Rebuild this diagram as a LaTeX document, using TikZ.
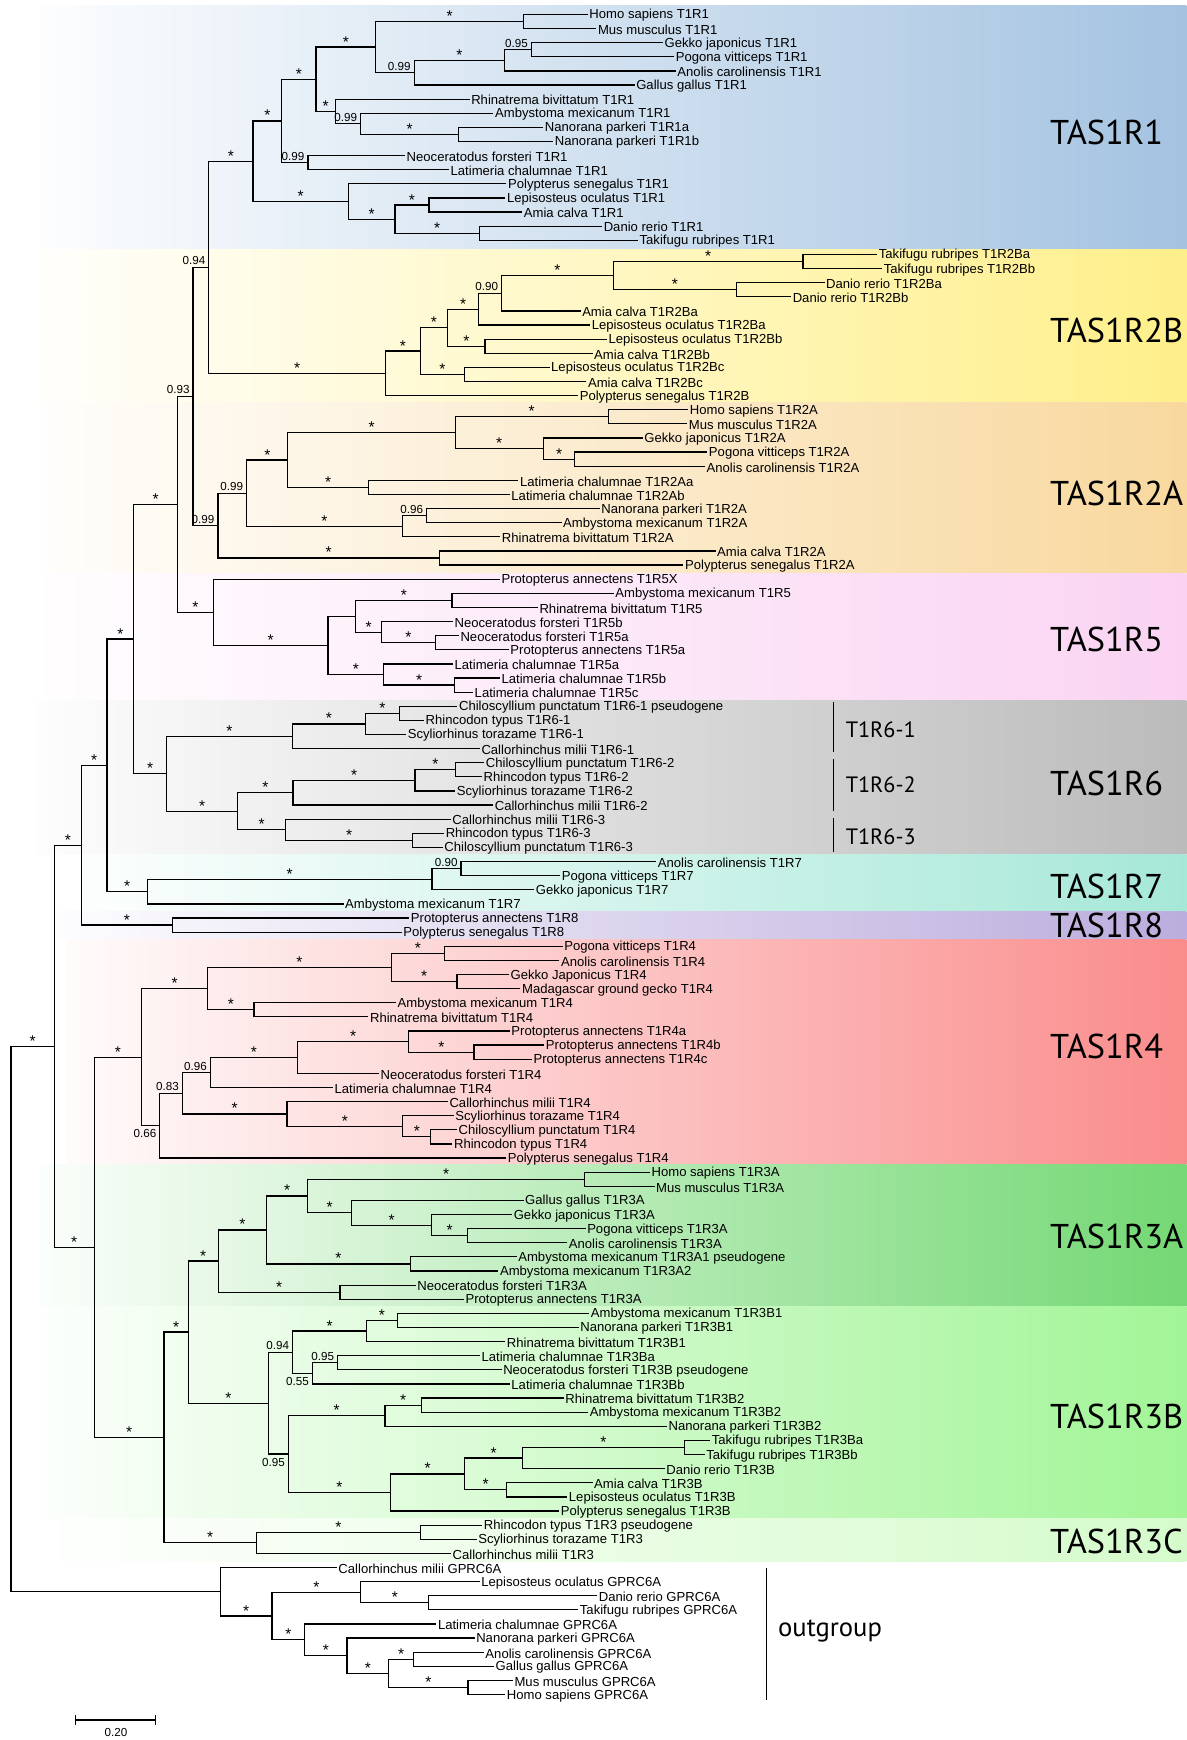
\documentclass[tikz,border=0pt]{standalone}
\usepackage{fontspec}
\setmainfont{Liberation Sans}
\newfontfamily\ptsans{PT Sans}
\usetikzlibrary{calc}
\definecolor{cRa}{HTML}{A4C3E1}
\definecolor{cRb}{HTML}{FFEF8A}
\definecolor{cRc}{HTML}{F8D89E}
\definecolor{cRd}{HTML}{FAD3F2}
\definecolor{cRe}{HTML}{BBBBBB}
\definecolor{cRf}{HTML}{A6E8D8}
\definecolor{cRg}{HTML}{BBADDD}
\definecolor{cRh}{HTML}{FA8C8C}
\definecolor{cRi}{HTML}{74D874}
\definecolor{cRj}{HTML}{A2F597}
\definecolor{cRk}{HTML}{D5FBCB}
\tikzset{
  br/.style={line width=1.1pt, line join=miter},
  leaf/.style={anchor=west, inner xsep=1.3pt, inner ysep=0pt, yshift=-1pt, font=\fontsize{11.8}{12}\selectfont},
  stl/.style={anchor=base, inner sep=0pt, font=\fontsize{14}{14}\selectfont},
  nla/.style={anchor=base east, inner sep=0pt, font=\fontsize{10.5}{10.5}\selectfont, xshift=-3pt, yshift=2.2pt},
  nlb/.style={anchor=north east, inner sep=0pt, font=\fontsize{10.5}{10.5}\selectfont, xshift=-3pt, yshift=-3.2pt},
  biglab/.style={anchor=west, inner sep=0pt, font=\ptsans\fontsize{31}{31}\selectfont},
  sublab/.style={anchor=west, inner sep=0pt, font=\ptsans\fontsize{20}{20}\selectfont},
  thinbar/.style={line width=0.8pt}
}
\newcommand\band[4]{\shade[left color=#1!3, right color=#1] (#2,#3) rectangle (1069,#4);}
\newcommand\lf[3]{\coordinate (L#1) at (#2,{13+(#1-1)*12.723}); \node[leaf] (N#1) at (L#1) {#3};}
\newcommand\nd[6]{%
  \path ($(#3)!0.5!(#5)$) coordinate (mtmp);
  \coordinate (#1) at (#2,0 |- mtmp);
  \draw[br] (#1) |- node[pos=.75,stl]{#4} (#3);
  \draw[br] (#1) |- node[pos=.75,stl]{#6} (#5);
}
\newcommand\nlab[2]{\node[nla] (lab#1) at (#1) {#2};}
\newcommand\nlabb[2]{\node[nlb] (lab#1) at (#1) {#2};}
\begin{document}
\begin{tikzpicture}[x=1pt,y=-1pt]
\useasboundingbox (0,0) rectangle (1069,1568);
\fill[white] (0,0) rectangle (1069,1568);
% bands
\band{cRa}{36}{5}{225}
\band{cRb}{36}{225}{363}
\band{cRc}{36}{363}{517}
\band{cRd}{40}{517}{631}
\band{cRe}{34}{631}{770}
\band{cRf}{75}{770}{821}
\band{cRg}{48}{821}{847}
\band{cRh}{60}{847}{1049}
\band{cRi}{36}{1049}{1177}
\band{cRj}{36}{1177}{1368}
\band{cRk}{54}{1368}{1407}
% big labels
\node[biglab] (t1) at (946,119) {TAS1R1};
\node[biglab] (t2) at (946,298) {TAS1R2B};
\node[biglab] (t3) at (946,445) {TAS1R2A};
\node[biglab] (t4) at (946,576) {TAS1R5};
\node[biglab] (t5) at (946,706) {TAS1R6};
\node[biglab] (t6) at (946,799) {TAS1R7};
\node[biglab] (t7) at (946,834) {TAS1R8};
\node[biglab] (t8) at (946,943) {TAS1R4};
\node[biglab] (t9) at (946,1114) {TAS1R3A};
\node[biglab] (t10) at (946,1276) {TAS1R3B};
\node[biglab] (t11) at (946,1389) {TAS1R3C};
\node[sublab] (s1) at (762,658) {T1R6-1};
\node[sublab] (s2) at (762,707) {T1R6-2};
\node[sublab] (s3) at (762,754) {T1R6-3};
\coordinate (v1a) at (751,633); \coordinate (v1b) at (751,678);
\coordinate (v2a) at (751,684); \coordinate (v2b) at (751,731);
\coordinate (v3a) at (751,737); \coordinate (v3b) at (751,768);
\draw[thinbar] (v1a) -- (v1b); \draw[thinbar] (v2a) -- (v2b); \draw[thinbar] (v3a) -- (v3b);
\coordinate (oga) at (691,1413); \coordinate (ogb) at (691,1532);
\draw[thinbar] (oga) -- (ogb);
\node[anchor=west, inner sep=0pt, font=\ptsans\fontsize{24}{24}\selectfont] (ogl) at (701,1470) {outgroup};
% leaves
\lf{1}{529.7}{Homo sapiens T1R1}
\lf{2}{537.4}{Mus musculus T1R1}
\lf{3}{597.4}{Gekko japonicus T1R1}
\lf{4}{607.5}{Pogona vitticeps T1R1}
\lf{5}{609}{Anolis carolinensis T1R1}
\lf{6}{571.9}{Gallus gallus T1R1}
\lf{7}{423.2}{Rhinatrema bivittatum T1R1}
\lf{8}{444.7}{Ambystoma mexicanum T1R1}
\lf{9}{489.6}{Nanorana parkeri T1R1a}
\lf{10}{498.6}{Nanorana parkeri T1R1b}
\lf{11}{365}{Neoceratodus forsteri T1R1}
\lf{12}{404.6}{Latimeria chalumnae T1R1}
\lf{13}{456.4}{Polypterus senegalus T1R1}
\lf{14}{455.5}{Lepisosteus oculatus T1R1}
\lf{15}{470.6}{Amia calva T1R1}
\lf{16}{542.6}{Danio rerio T1R1}
\lf{17}{574.9}{Takifugu rubripes T1R1}
\lf{18}{790.5}{Takifugu rubripes T1R2Ba}
\lf{19}{795}{Takifugu rubripes T1R2Bb}
\lf{20}{743}{Danio rerio T1R2Ba}
\lf{21}{712.9}{Danio rerio T1R2Bb}
\lf{22}{523.2}{Amia calva T1R2Ba}
\lf{23}{531.8}{Lepisosteus oculatus T1R2Ba}
\lf{24}{546.9}{Lepisosteus oculatus T1R2Bb}
\lf{25}{534}{Amia calva T1R2Bb}
\lf{26}{495.2}{Lepisosteus oculatus T1R2Bc}
\lf{27}{528.4}{Amia calva T1R2Bc}
\lf{28}{521}{Polypterus senegalus T1R2B}
\lf{29}{620.2}{Homo sapiens T1R2A}
\lf{30}{619.3}{Mus musculus T1R2A}
\lf{31}{579.2}{Gekko japonicus T1R2A}
\lf{32}{637.4}{Pogona vitticeps T1R2A}
\lf{33}{635.3}{Anolis carolinensis T1R2A}
\lf{34}{467.2}{Latimeria chalumnae T1R2Aa}
\lf{35}{459.4}{Latimeria chalumnae T1R2Ab}
\lf{36}{540.4}{Nanorana parkeri T1R2A}
\lf{37}{506}{Ambystoma mexicanum T1R2A}
\lf{38}{450.8}{Rhinatrema bivittatum T1R2A}
\lf{39}{644.8}{Amia calva T1R2A}
\lf{40}{615.9}{Polypterus senegalus T1R2A}
\lf{41}{450.5}{Protopterus annectens T1R5X}
\lf{42}{553.1}{Ambystoma mexicanum T1R5}
\lf{43}{484.7}{Rhinatrema bivittatum T1R5}
\lf{44}{408.2}{Neoceratodus forsteri T1R5b}
\lf{45}{413.5}{Neoceratodus forsteri T1R5a}
\lf{46}{458.5}{Protopterus annectens T1R5a}
\lf{47}{408.2}{Latimeria chalumnae T1R5a}
\lf{48}{450.5}{Latimeria chalumnae T1R5b}
\lf{49}{426.3}{Latimeria chalumnae T1R5c}
\lf{50}{412.2}{Chiloscyllium punctatum T1R6-1 pseudogene}
\lf{51}{382.1}{Rhincodon typus T1R6-1}
\lf{52}{366}{Scyliorhinus torazame T1R6-1}
\lf{53}{432.4}{Callorhinchus milii T1R6-1}
\lf{54}{436.4}{Chiloscyllium punctatum T1R6-2}
\lf{55}{434.4}{Rhincodon typus T1R6-2}
\lf{56}{410.2}{Scyliorhinus torazame T1R6-2}
\lf{57}{444.4}{Callorhinchus milii T1R6-2}
\lf{58}{406.2}{Callorhinchus milii T1R6-3}
\lf{59}{400.2}{Rhincodon typus T1R6-3}
\lf{60}{399}{Chiloscyllium punctatum T1R6-3}
\lf{61}{591.3}{Anolis carolinensis T1R7}
\lf{62}{504.8}{Pogona vitticeps T1R7}
\lf{63}{481.5}{Gekko japonicus T1R7}
\lf{64}{309.6}{Ambystoma mexicanum T1R7}
\lf{65}{368.8}{Protopterus annectens T1R8}
\lf{66}{361.9}{Polypterus senegalus T1R8}
\lf{67}{507}{Pogona vitticeps T1R4}
\lf{68}{504.1}{Anolis carolinensis T1R4}
\lf{69}{458.6}{Gekko Japonicus T1R4}
\lf{70}{469}{Madagascar ground gecko T1R4}
\lf{71}{356.8}{Ambystoma mexicanum T1R4}
\lf{72}{332}{Rhinatrema bivittatum T1R4}
\lf{73}{459.4}{Protopterus annectens T1R4a}
\lf{74}{490.5}{Protopterus annectens T1R4b}
\lf{75}{479.3}{Protopterus annectens T1R4c}
\lf{76}{341.5}{Neoceratodus forsteri T1R4}
\lf{77}{300.1}{Latimeria chalumnae T1R4}
\lf{78}{403.6}{Callorhinchus milii T1R4}
\lf{79}{408.9}{Scyliorhinus torazame T1R4}
\lf{80}{411.8}{Chiloscyllium punctatum T1R4}
\lf{81}{407.7}{Rhincodon typus T1R4}
\lf{82}{456.1}{Polypterus senegalus T1R4}
\lf{83}{585.7}{Homo sapiens T1R3A}
\lf{84}{589.8}{Mus musculus T1R3A}
\lf{85}{471.8}{Gallus gallus T1R3A}
\lf{86}{461.5}{Gekko japonicus T1R3A}
\lf{87}{527.7}{Pogona vitticeps T1R3A}
\lf{88}{511.2}{Anolis carolinensis T1R3A}
\lf{89}{465.6}{Ambystoma mexicanum T1R3A1 pseudogene}
\lf{90}{449.1}{Ambystoma mexicanum T1R3A2}
\lf{91}{374.6}{Neoceratodus forsteri T1R3A}
\lf{92}{418}{Protopterus annectens T1R3A}
\lf{93}{531}{Ambystoma mexicanum T1R3B1}
\lf{94}{521.5}{Nanorana parkeri T1R3B1}
\lf{95}{455.3}{Rhinatrema bivittatum T1R3B1}
\lf{96}{432.5}{Latimeria chalumnae T1R3Ba}
\lf{97}{452}{Neoceratodus forsteri T1R3B pseudogene}
\lf{98}{459.4}{Latimeria chalumnae T1R3Bb}
\lf{99}{508}{Rhinatrema bivittatum T1R3B2}
\lf{100}{530}{Ambystoma mexicanum T1R3B2}
\lf{101}{601}{Nanorana parkeri T1R3B2}
\lf{102}{640}{Takifugu rubripes T1R3Ba}
\lf{103}{635}{Takifugu rubripes T1R3Bb}
\lf{104}{599}{Danio rerio T1R3B}
\lf{105}{534}{Amia calva T1R3B}
\lf{106}{511.2}{Lepisosteus oculatus T1R3B}
\lf{107}{504}{Polypterus senegalus T1R3B}
\lf{108}{434.6}{Rhincodon typus T1R3 pseudogene}
\lf{109}{429.6}{Scyliorhinus torazame T1R3}
\lf{110}{406.4}{Callorhinchus milii T1R3}
\lf{111}{303.5}{Callorhinchus milii GPRC6A}
\lf{112}{432.3}{Lepisosteus oculatus GPRC6A}
\lf{113}{538.1}{Danio rerio GPRC6A}
\lf{114}{521.1}{Takifugu rubripes GPRC6A}
\lf{115}{393.2}{Latimeria chalumnae GPRC6A}
\lf{116}{427.7}{Nanorana parkeri GPRC6A}
\lf{117}{436}{Anolis carolinensis GPRC6A}
\lf{118}{445.2}{Gallus gallus GPRC6A}
\lf{119}{462.2}{Mus musculus GPRC6A}
\lf{120}{455.3}{Homo sapiens GPRC6A}
% TAS1R1
\nd{a1}{471.5}{L1}{}{L2}{}
\nd{a2}{478.8}{L3}{}{L4}{}
\nd{a3}{454.6}{a2}{}{L5}{}
\nd{a4}{373.2}{a3}{*}{L6}{}
\nd{a5}{338.7}{a1}{*}{a4}{}
\nd{a6}{413.3}{L9}{}{L10}{}
\nd{a7}{324.9}{L8}{}{a6}{*}
\nd{a8}{302}{L7}{}{a7}{}
\nd{a9}{284.8}{a5}{*}{a8}{*}
\nd{a10}{277.5}{L11}{}{L12}{}
\nd{a11}{253.8}{a9}{*}{a10}{}
\nd{a12}{386.5}{L14}{}{L15}{}
\nd{a13}{431.8}{L16}{}{L17}{}
\nd{a14}{355.9}{a12}{*}{a13}{*}
\nd{a15}{314.1}{L13}{}{a14}{*}
\nd{a16}{227.9}{a11}{*}{a15}{*}
% TAS1R2B
\nd{b1}{723.7}{L18}{}{L19}{}
\nd{b2}{663.7}{L20}{}{L21}{}
\nd{b3}{552.5}{b1}{*}{b2}{*}
\nd{b4}{452}{b3}{*}{L22}{}
\nd{b5}{431.4}{b4}{}{L23}{}
\nd{b6}{437}{L24}{}{L25}{}
\nd{b7}{403.4}{b5}{*}{b6}{*}
\nd{b8}{418.4}{L26}{}{L27}{}
\nd{b9}{378.8}{b7}{*}{b8}{*}
\nd{b10}{347.3}{b9}{*}{L28}{}
\nd{Q}{188.2}{a16}{*}{b10}{*}
% TAS1R2A
\nd{c1}{548.2}{L29}{}{L30}{}
\nd{c2}{518}{L32}{}{L33}{}
\nd{c3}{489.6}{L31}{}{c2}{*}
\nd{c4}{410.2}{c1}{*}{c3}{*}
\nd{c5}{332.2}{L34}{}{L35}{}
\nd{c6}{259.4}{c4}{*}{c5}{*}
\nd{c7}{384.4}{L36}{}{L37}{}
\nd{c8}{362.4}{c7}{}{L38}{}
\nd{c9}{222.3}{c6}{*}{c8}{*}
\nd{c10}{396}{L39}{}{L40}{}
\nd{c11}{196.4}{c9}{}{c10}{*}
\nd{R}{174}{Q}{}{c11}{}
% TAS1R5
\nd{d1}{407.4}{L42}{}{L43}{}
\nd{d2}{392.1}{L45}{}{L46}{}
\nd{d3}{343.8}{L44}{}{d2}{*}
\nd{d4}{320.5}{d1}{*}{d3}{*}
\nd{d9}{409.4}{L48}{}{L49}{}
\nd{d8}{345.8}{L47}{}{d9}{*}
\nd{d7}{295.5}{d4}{}{d8}{*}
\nd{d10}{192.1}{L41}{}{d7}{*}
\nd{S}{160}{R}{}{d10}{*}
% TAS1R6
\nd{e1}{359.9}{L50}{}{L51}{}
\nd{e2}{329.3}{e1}{*}{L52}{}
\nd{e3}{263.4}{e2}{*}{L53}{}
\nd{e4}{410.6}{L54}{}{L55}{}
\nd{e5}{374}{e4}{*}{L56}{}
\nd{e6}{264.1}{e5}{*}{L57}{}
\nd{e7}{372}{L59}{}{L60}{}
\nd{e8}{257.3}{L58}{}{e7}{*}
\nd{e9}{214.3}{e6}{*}{e8}{*}
\nd{e10}{149.9}{e3}{*}{e9}{*}
\nd{Z1}{120.5}{S}{*}{e10}{*}
% TAS1R7 / R8
\nd{f1}{415.5}{L61}{}{L62}{}
\nd{f2}{389.3}{f1}{}{L63}{}
\nd{f3}{132.6}{f2}{*}{L64}{}
\nd{Z2}{96.4}{Z1}{*}{f3}{*}
\nd{f4}{155.5}{L65}{}{L66}{}
\nd{Z3}{73.4}{Z2}{*}{f4}{*}
% TAS1R4
\nd{g1}{400.7}{L67}{}{L68}{}
\nd{g2}{411.8}{L69}{}{L70}{}
\nd{g3}{352.6}{g1}{*}{g2}{*}
\nd{g4}{228.9}{L71}{}{L72}{}
\nd{g5}{187.1}{g3}{*}{g4}{*}
\nd{g6}{427.1}{L74}{}{L75}{}
\nd{g7}{368.4}{L73}{}{g6}{*}
\nd{g8}{268.2}{g7}{*}{L76}{}
\nd{g9}{189.6}{g8}{*}{L77}{}
\nd{g10}{388.2}{L80}{}{L81}{}
\nd{g11}{363}{L79}{}{g10}{*}
\nd{g12}{258.7}{L78}{}{g11}{*}
\nd{g13}{164.3}{g9}{}{g12}{*}
\nd{g14}{144}{g13}{}{L82}{}
\nd{g15}{127.5}{g5}{*}{g14}{}
% TAS1R3A
\nd{h1}{526.9}{L83}{}{L84}{}
\nd{h2}{421.4}{L87}{}{L88}{}
\nd{h3}{389.1}{L86}{}{h2}{*}
\nd{h4}{316.6}{L85}{}{h3}{*}
\nd{h5}{277.3}{h1}{*}{h4}{*}
\nd{h6}{369.6}{L89}{}{L90}{}
\nd{h7}{240.1}{h5}{*}{h6}{*}
\nd{h8}{306.3}{L91}{}{L92}{}
\nd{h9}{196.6}{h7}{*}{h8}{*}
% TAS1R3B
\nd{i1}{358}{L93}{}{L94}{}
\nd{i2}{330.3}{i1}{*}{L95}{}
\nd{i3}{304.2}{L96}{}{L97}{}
\nd{i4}{281.5}{i3}{}{L98}{}
\nd{i5}{263.7}{i2}{*}{i4}{}
\nd{i6}{379.5}{L99}{}{L100}{}
\nd{i7}{346.9}{i6}{*}{L101}{}
\nd{i8}{616.7}{L102}{}{L103}{}
\nd{i9}{470.6}{i8}{*}{L104}{}
\nd{i10}{456.5}{L105}{}{L106}{}
\nd{i11}{418.9}{i9}{*}{i10}{*}
\nd{i12}{351.8}{i11}{*}{L107}{}
\nd{i13}{259.9}{i7}{*}{i12}{*}
\nd{i14}{242.1}{i5}{}{i13}{}
\nd{h10}{169.7}{h9}{*}{i14}{*}
% TAS1R3C
\nd{j1}{378.7}{L108}{}{L109}{}
\nd{j2}{231}{j1}{*}{L110}{}
\nd{h11}{147.8}{h10}{*}{j2}{*}
\nd{Z5}{84.9}{g15}{*}{h11}{*}
\nd{Z4}{48.8}{Z3}{*}{Z5}{*}
% outgroup
\nd{k1}{386.3}{L113}{}{L114}{}
\nd{k2}{325.2}{L112}{}{k1}{*}
\nd{k3}{372.5}{L117}{}{L118}{}
\nd{k4}{421.7}{L119}{}{L120}{}
\nd{k5}{350.4}{k3}{*}{k4}{*}
\nd{k6}{312.7}{L116}{}{k5}{*}
\nd{k7}{274.6}{L115}{}{k6}{*}
\nd{k8}{245.1}{k2}{*}{k7}{*}
\nd{k9}{198.7}{L111}{}{k8}{*}
\nd{root}{10}{Z4}{*}{k9}{}
% numeric support labels
\nlab{a2}{0.95}
\nlab{a4}{0.99}
\nlab{a7}{0.99}
\nlab{a10}{0.99}
\nlab{Q}{0.94}
\nlab{b4}{0.90}
\nlab{c7}{0.96}
\nlab{c9}{0.99}
\nlab{c11}{0.99}
\nlab{R}{0.93}
\nlab{f1}{0.90}
\nlab{g9}{0.96}
\nlab{g13}{0.83}
\nlabb{g14}{0.66}
\nlab{i3}{0.95}
\nlabb{i4}{0.55}
\nlab{i5}{0.94}
\nlabb{i13}{0.95}
% scale bar
\coordinate (sba) at (68,1550); \coordinate (sbb) at (140,1550);
\draw[line width=1.1pt] (sba) -- (sbb);
\draw[line width=1.1pt] ([yshift=4.5pt]sba) -- ([yshift=-4.5pt]sba);
\draw[line width=1.1pt] ([yshift=4.5pt]sbb) -- ([yshift=-4.5pt]sbb);
\node[inner sep=0pt, font=\fontsize{10.5}{10.5}\selectfont] (sbl) at (104.5,1561.5) {0.20};
\end{tikzpicture}
\end{document}
